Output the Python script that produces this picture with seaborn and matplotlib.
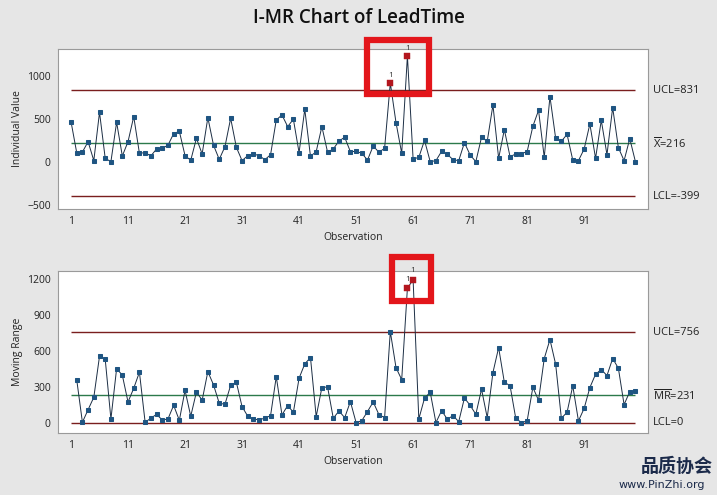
import numpy as np
import pandas as pd
import matplotlib
matplotlib.use("Agg")
import matplotlib.pyplot as plt
from matplotlib.patches import Rectangle
import seaborn as sns

sns.set_style('white')
plt.rcParams['font.family'] = ['Open Sans', 'Noto Sans CJK SC', 'DejaVu Sans']
plt.rcParams['mathtext.fontset'] = 'custom'
plt.rcParams['mathtext.rm'] = 'Open Sans'

# Data
obs = list(range(1, 101))
lead_time = [468, 108, 115, 235, 15, 576, 42, 3, 460, 69,
             235, 526, 100, 108, 69, 150, 158, 193, 328, 355,
             73, 19, 274, 92, 514, 193, 30, 177, 506, 170,
             15, 73, 92, 73, 26, 84, 487, 545, 410, 495,
             108, 611, 65, 119, 410, 112, 150, 243, 286, 119,
             123, 100, 22, 185, 112, 158, 916, 456, 100, 1230,
             34, 53, 251, 3, 15, 123, 88, 26, 15, 224,
             81, 3, 286, 239, 661, 42, 375, 61, 92, 96,
             119, 413, 599, 53, 758, 274, 239, 320, 22, 15,
             150, 440, 42, 483, 84, 630, 166, 15, 270, 0]
mr_obs = list(range(2, 101))
moving_range = [361, 6, 111, 214, 556, 531, 33, 453, 398,
                175, 289, 423, 6, 39, 72, 25, 33, 147, 22,
                272, 56, 259, 189, 428, 317, 164, 156, 314, 339,
                136, 56, 31, 28, 39, 61, 386, 67, 145, 89,
                373, 492, 545, 53, 295, 300, 39, 100, 44, 178,
                3, 19, 95, 175, 70, 44, 762, 461, 361, 1123,
                1193, 33, 206, 256, 3, 103, 31, 61, 11, 208,
                147, 72, 281, 44, 420, 628, 339, 311, 39, 3,
                17, 297, 189, 537, 695, 489, 39, 89, 309, 17,
                122, 295, 406, 445, 395, 537, 456, 153, 261, 270]

i_limits = {'UCL': 831, 'CL': 216, 'LCL': -399}
mr_limits = {'UCL': 756, 'CL': 231, 'LCL': 0}
i_ooc = [57, 60]
mr_ooc = [60, 61]

i_df = pd.DataFrame({'Observation': obs, 'Value': lead_time})
mr_df = pd.DataFrame({'Observation': mr_obs, 'Value': moving_range})

# Colours
BG = '#E6E6E6'
PT = '#1F5582'
LN = '#1C2E44'
RED_PT = '#B3161E'
LIM = '#7A1E1E'
CEN = '#2C7A4B'
BOX = '#E3161B'

fig = plt.figure(figsize=(7.17, 4.95), dpi=100, facecolor=BG)
ax1 = fig.add_axes([0.0805, 0.5778, 0.8233, 0.3232])
ax2 = fig.add_axes([0.0805, 0.1259, 0.8233, 0.3273])

fig.text(0.5, 1 - 18 / 495, 'I-MR Chart of LeadTime', ha='center', va='center',
         fontsize=13.5, fontweight='semibold', color='#111111')


def draw_panel(ax, df, limits, ooc, ylabel, labels, yticks, ylim):
    ax.set_facecolor('white')
    ax.hlines([limits['UCL'], limits['LCL']], 1, 100, color=LIM, lw=1.0, zorder=1)
    ax.hlines(limits['CL'], 1, 100, color=CEN, lw=1.0, zorder=1)
    sns.lineplot(data=df, x='Observation', y='Value', ax=ax, color=LN, lw=0.7,
                 marker='s', markersize=3.4, mfc=PT, mec=PT, zorder=3)
    bad = df[df['Observation'].isin(ooc)]
    sns.scatterplot(data=bad, x='Observation', y='Value', ax=ax, marker='s', s=14,
                    color=RED_PT, edgecolor=RED_PT, zorder=4)
    for _, r in bad.iterrows():
        ax.text(r['Observation'], r['Value'] + 45, '1', ha='center', va='bottom',
                fontsize=6, color='#333333')
    for key, txt in labels.items():
        ax.text(1.008, limits[key], txt, transform=ax.get_yaxis_transform(),
                ha='left', va='center', fontsize=8, color='#222222')
    ax.set_xlim(-1.33, 102.2)
    ax.set_ylim(*ylim)
    ax.set_xticks(list(range(1, 100, 10)))
    ax.set_yticks(yticks)
    ax.tick_params(axis='both', labelsize=7.5, direction='out', length=3,
                   color='#888888', labelcolor='#222222', pad=2)
    ax.set_xlabel('Observation', fontsize=7.5, color='#222222')
    ax.set_ylabel(ylabel, fontsize=7.5, color='#222222')
    ax.xaxis.set_label_coords(0.5, -0.145)
    ax.yaxis.set_label_coords(-0.059, 0.5)
    for s in ax.spines.values():
        s.set_color('#9A9A9A')
        s.set_linewidth(0.8)


draw_panel(ax1, i_df, i_limits, i_ooc, 'Individual Value',
           {'UCL': 'UCL=831', 'CL': r'$\overline{\mathrm{X}}$=216', 'LCL': 'LCL=-399'},
           [-500, 0, 500, 1000], (-546, 1310))
draw_panel(ax2, mr_df, mr_limits, mr_ooc, 'Moving Range',
           {'UCL': 'UCL=756', 'CL': r'$\overline{\mathrm{MR}}$=231', 'LCL': 'LCL=0'},
           [0, 300, 600, 900, 1200], (-81, 1269))

# highlight boxes around the out-of-control points
ax1.add_patch(Rectangle((53.0, 786), 10.7, 631, fill=False, ec=BOX, lw=4.5,
                        clip_on=False, zorder=6))
ax2.add_patch(Rectangle((57.3, 1018), 6.8, 361, fill=False, ec=BOX, lw=4.5,
                        clip_on=False, zorder=6))

# watermark
fig.text(0.893, 1 - 466 / 495, '品质协会', ha='left', va='center', fontsize=13,
         fontweight='bold', color='#1B2A4A', family=['Noto Sans CJK SC', 'DejaVu Sans'])
fig.text(0.862, 1 - 485 / 495, 'www.PinZhi.org', ha='left', va='center', fontsize=8,
         color='#1B2A4A', family=['DejaVu Sans'])

fig.savefig('out.png', dpi=100, facecolor=BG)
